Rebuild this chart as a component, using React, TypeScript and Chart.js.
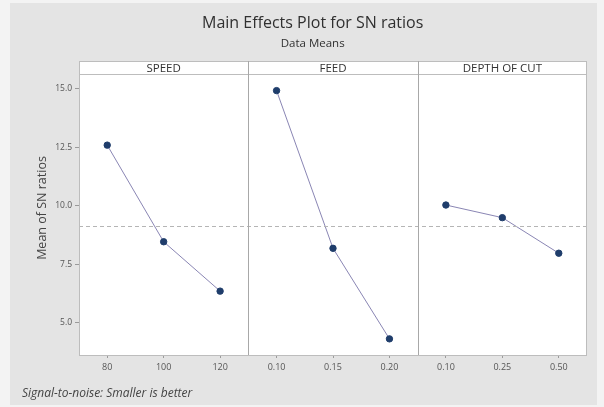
import React, { useEffect, useRef } from "react";
import { Chart, registerables } from "chart.js";

Chart.register(...registerables);

const titleText = "Main Effects Plot for SN ratios";
const subtitleText = "Data Means";
const footnoteText = "Signal-to-noise: Smaller is better";
const yAxisTitle = "Mean of SN ratios";

const panelNames = ["SPEED", "FEED", "DEPTH OF CUT"];
const speedLevels = ["80", "100", "120"];
const feedLevels = ["0.10", "0.15", "0.20"];
const depthLevels = ["0.10", "0.25", "0.50"];
const speedMeans = [12.6, 8.47, 6.36];
const feedMeans = [14.93, 8.19, 4.32];
const depthMeans = [10.04, 9.5, 7.98];
const yTicks = [5.0, 7.5, 10.0, 12.5, 15.0];
const yMin = 3.63;
const yMax = 15.64;

const FONT = "'Open Sans', 'Noto Sans', sans-serif";
const LINE = "#8a86b4";
const POINT = "#1f3d6b";
const FRAME = "#bdbdbd";

export default function App() {
  const ref = useRef<HTMLCanvasElement | null>(null);

  useEffect(() => {
    document.body.style.margin = "0";
    const canvas = ref.current;
    if (!canvas) return;

    const all = [...speedMeans, ...feedMeans, ...depthMeans];
    const grandMean = all.reduce((a, b) => a + b, 0) / all.length;

    const decor = {
      id: "decor",
      beforeDraw(chart: any) {
        const { ctx, width, height } = chart;
        ctx.save();
        ctx.fillStyle = "#f3f3f3";
        ctx.fillRect(0, 0, width, height);
        ctx.fillStyle = "#e4e4e4";
        ctx.fillRect(10, 3, width - 17, height - 5);
        const a = chart.chartArea;
        const headerTop = a.top - 13;
        ctx.fillStyle = "#ffffff";
        ctx.fillRect(a.left, headerTop, a.right - a.left, a.bottom - headerTop);
        ctx.restore();
      },
      afterDatasetsDraw(chart: any) {
        const { ctx } = chart;
        const a = chart.chartArea;
        const y = chart.scales.y;
        const headerTop = a.top - 13;
        ctx.save();
        // dashed grand mean
        const ym = y.getPixelForValue(grandMean);
        ctx.strokeStyle = "#b5b5b5";
        ctx.lineWidth = 1;
        ctx.setLineDash([4, 3]);
        ctx.beginPath();
        ctx.moveTo(a.left, Math.round(ym) + 0.5);
        ctx.lineTo(a.right, Math.round(ym) + 0.5);
        ctx.stroke();
        ctx.setLineDash([]);
        // frame
        ctx.strokeStyle = FRAME;
        ctx.strokeRect(a.left + 0.5, headerTop + 0.5, a.right - a.left - 1, a.bottom - headerTop);
        ctx.beginPath();
        ctx.moveTo(a.left, a.top + 0.5);
        ctx.lineTo(a.right, a.top + 0.5);
        ctx.stroke();
        // panel dividers and headers
        const ids = ["x0", "x1", "x2"];
        ctx.font = `11.5px ${FONT}`;
        ctx.fillStyle = "#333333";
        ctx.textAlign = "center";
        ctx.textBaseline = "middle";
        ids.forEach((id, i) => {
          const s = chart.scales[id];
          if (i < ids.length - 1) {
            ctx.strokeStyle = "#a8a8a8";
            ctx.beginPath();
            ctx.moveTo(Math.round(s.right) + 0.5, headerTop);
            ctx.lineTo(Math.round(s.right) + 0.5, a.bottom);
            ctx.stroke();
          }
          ctx.fillText(panelNames[i], (s.left + s.right) / 2, headerTop + 7.5);
        });
        // titles
        const cx = a.left + (a.right - a.left) * 0.46;
        ctx.fillStyle = "#303030";
        ctx.font = `16px ${FONT}`;
        ctx.fillText(titleText, cx, 23);
        ctx.font = `11.5px ${FONT}`;
        ctx.fillText(subtitleText, cx, 44);
        // y axis title
        ctx.save();
        ctx.translate(42, (headerTop + a.bottom) / 2);
        ctx.rotate(-Math.PI / 2);
        ctx.font = `12.5px ${FONT}`;
        ctx.fillStyle = "#444444";
        ctx.fillText(yAxisTitle, 0, 0);
        ctx.restore();
        // footnote
        ctx.textAlign = "left";
        ctx.font = `italic 12px ${FONT}`;
        ctx.fillStyle = "#444444";
        ctx.fillText(footnoteText, 22, 394);
        ctx.restore();
      },
    };

    const xAxis = (labels: string[]) => ({
      type: "category" as const,
      labels,
      position: "bottom" as const,
      stack: "panels",
      stackWeight: 1,
      offset: true,
      grid: { display: true, drawOnChartArea: false, drawTicks: true, tickLength: 3, color: "#9a9a9a" },
      border: { display: false },
      ticks: { color: "#555555", font: { family: FONT, size: 9 }, padding: 4, maxRotation: 0 },
      afterFit(scale: any) {
        scale.height = 32;
      },
    });

    const ds = (data: number[], xAxisID: string) => ({
      data,
      xAxisID,
      yAxisID: "y",
      borderColor: LINE,
      borderWidth: 1,
      pointBackgroundColor: POINT,
      pointBorderColor: POINT,
      pointRadius: 3.2,
      tension: 0,
    });

    const chart = new Chart(canvas, {
      type: "line",
      data: {
        datasets: [ds(speedMeans, "x0"), ds(feedMeans, "x1"), ds(depthMeans, "x2")],
      },
      options: {
        animation: false,
        responsive: false,
        maintainAspectRatio: false,
        layout: { padding: { left: 10, right: 17, top: 74, bottom: 20 } },
        plugins: { legend: { display: false }, tooltip: { enabled: false }, title: { display: false } },
        scales: {
          x0: xAxis(speedLevels),
          x1: xAxis(feedLevels),
          x2: xAxis(depthLevels),
          y: {
            type: "linear",
            position: "left",
            min: yMin,
            max: yMax,
            grid: { display: true, drawOnChartArea: false, drawTicks: true, tickLength: 4, color: "#9a9a9a" },
            border: { display: false },
            ticks: {
              color: "#555555",
              font: { family: FONT, size: 8.5 },
              padding: 3,
              callback: (v: any) => Number(v).toFixed(1),
            },
            afterBuildTicks(scale: any) {
              scale.ticks = yTicks.map((v) => ({ value: v }));
            },
            title: { display: false },
            afterFit(scale: any) {
              scale.width = 69;
            },
          },
        },
      },
      plugins: [decor],
    } as any);

    return () => chart.destroy();
  }, []);

  return (
    <div style={{ width: 604, height: 407 }}>
      <canvas ref={ref} width={604} height={407} style={{ display: "block", width: 604, height: 407 }} />
    </div>
  );
}
